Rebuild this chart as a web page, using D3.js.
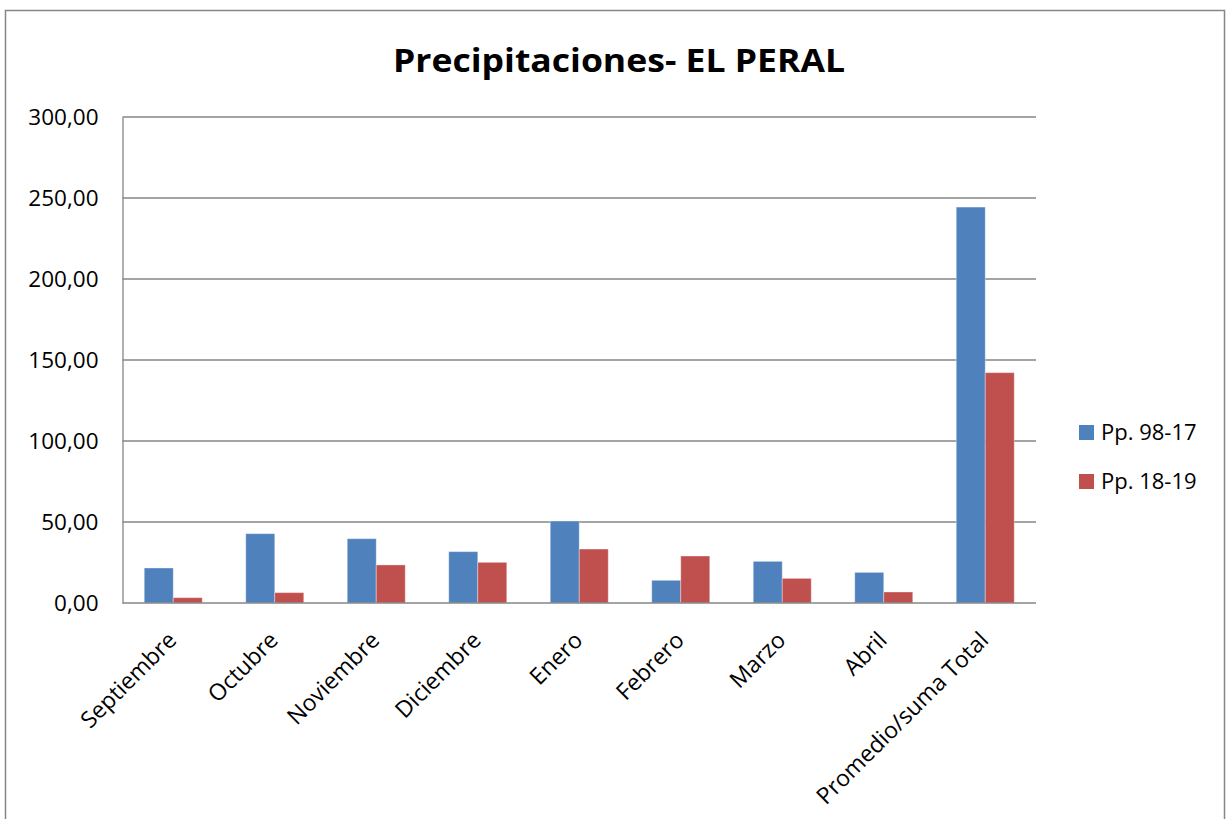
<!DOCTYPE html>
<html>
<head>
<meta charset="utf-8">
<script src="https://cdn.jsdelivr.net/npm/d3@7"></script>
<style>
  html, body { margin: 0; padding: 0; background: #fff; }
  svg { display: block; font-family: "Open Sans", "Noto Sans", sans-serif; }
</style>
</head>
<body>
<div id="chart"></div>
<script>
const categories = ["Septiembre", "Octubre", "Noviembre", "Diciembre", "Enero",
  "Febrero", "Marzo", "Abril", "Promedio/suma Total"];
const seriesNames = ["Pp. 98-17", "Pp. 18-19"];
const pp9817 = [21.6, 42.8, 39.7, 31.7, 50.6, 14.0, 25.7, 18.9, 244.4];
const pp1819 = [3.3, 6.4, 23.5, 25.1, 33.3, 29.0, 15.2, 6.8, 142.2];
const yTicks = [0, 50, 100, 150, 200, 250, 300];
const colors = ["#4F81BD", "#C0504D"];

const width = 1230, height = 819;
const plot = { left: 122.5, right: 1036, top: 117, bottom: 603 };

const svg = d3.select("#chart").append("svg")
  .attr("width", width).attr("height", height);

// chart frame
svg.append("rect")
  .attr("x", 5.5).attr("y", 10.5)
  .attr("width", 1219).attr("height", 830)
  .attr("fill", "#fff").attr("stroke", "#868686").attr("stroke-width", 1.5);

// title
svg.append("text")
  .attr("x", 619).attr("y", 72)
  .attr("text-anchor", "middle")
  .attr("font-size", 32).attr("font-weight", "bold")
  .attr("textLength", 452).attr("lengthAdjust", "spacingAndGlyphs")
  .text("Precipitaciones- EL PERAL");

const x0 = d3.scaleBand()
  .domain(categories)
  .range([plot.left, plot.right])
  .paddingInner(0.4286)
  .paddingOuter(0.2143);

const x1 = d3.scaleBand()
  .domain(seriesNames)
  .range([0, x0.bandwidth()]);

const y = d3.scaleLinear().domain([0, 300]).range([plot.bottom, plot.top]);

const fmt = (v) => d3.format(".2f")(v).replace(".", ",");

// gridlines
svg.append("g")
  .selectAll("line")
  .data(yTicks.filter((t) => t > 0))
  .join("line")
  .attr("x1", plot.left).attr("x2", plot.right)
  .attr("y1", (d) => y(d)).attr("y2", (d) => y(d))
  .attr("stroke", "#868686").attr("stroke-width", 1.3);

// y axis
const yAxis = svg.append("g")
  .attr("transform", `translate(${plot.left},0)`)
  .call(d3.axisLeft(y).tickValues(yTicks).tickFormat(fmt).tickSize(0).tickPadding(24));
yAxis.select(".domain").attr("stroke", "#868686").attr("stroke-width", 1.3);
yAxis.selectAll("text")
  .attr("font-size", 22.5).attr("fill", "#000")
  .attr("font-family", "'Open Sans', sans-serif");

// bars
const rows = categories.map((c, i) => ({ cat: c, vals: [pp9817[i], pp1819[i]] }));
const groups = svg.append("g")
  .selectAll("g")
  .data(rows)
  .join("g")
  .attr("transform", (d) => `translate(${x0(d.cat)},0)`);

groups.selectAll("rect")
  .data((d) => d.vals.map((v, j) => ({ key: seriesNames[j], v, j })))
  .join("rect")
  .attr("x", (d) => x1(d.key))
  .attr("y", (d) => y(d.v))
  .attr("width", x1.bandwidth())
  .attr("height", (d) => y(0) - y(d.v))
  .attr("fill", (d) => colors[d.j])
  .attr("stroke", "rgba(255,255,255,0.35)")
  .attr("stroke-width", 1);

// x axis
const xAxis = svg.append("g")
  .attr("transform", `translate(0,${plot.bottom})`)
  .call(d3.axisBottom(x0).tickSize(0).tickSizeOuter(0));
xAxis.select(".domain").attr("stroke", "#868686").attr("stroke-width", 1.3)
  .attr("d", `M${plot.left},0H${plot.right}`);
xAxis.selectAll("text")
  .attr("font-size", 23).attr("fill", "#000")
  .attr("font-family", "'Open Sans', sans-serif")
  .attr("text-anchor", "end")
  .attr("dy", "0.35em")
  .attr("transform", "translate(-1,33) rotate(-45)")
  .attr("y", 0).attr("x", 0);

// legend
const legend = svg.append("g")
  .selectAll("g")
  .data(seriesNames)
  .join("g")
  .attr("transform", (d, i) => `translate(1079,${425 + i * 49})`);
legend.append("rect")
  .attr("width", 15).attr("height", 15)
  .attr("fill", (d, i) => colors[i]);
legend.append("text")
  .attr("x", 22).attr("y", 15)
  .attr("font-size", 22)
  .text((d) => d);
</script>
</body>
</html>
